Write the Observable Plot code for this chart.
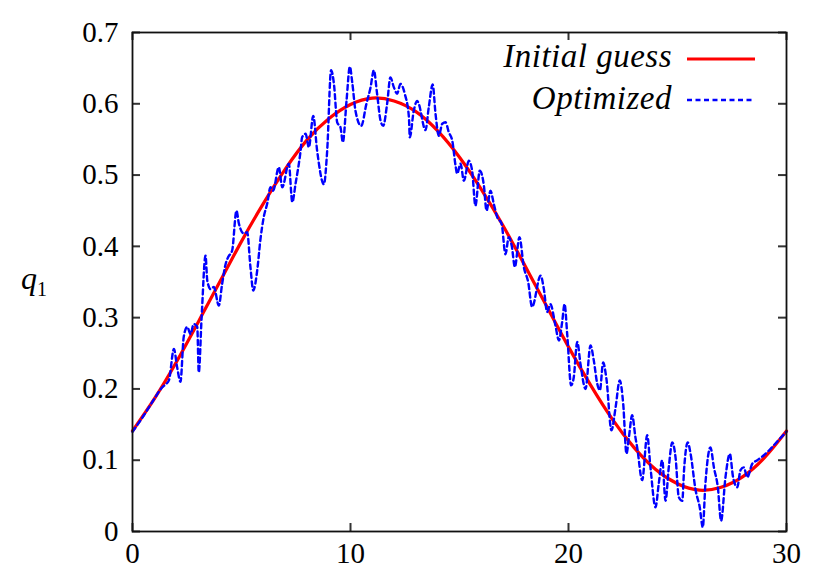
<!DOCTYPE html>
<html>
<head>
<meta charset="utf-8">
<script src="https://cdn.jsdelivr.net/npm/d3@7"></script>
<script src="https://cdn.jsdelivr.net/npm/@observablehq/plot@0.6"></script>
<style>
  html, body { margin: 0; padding: 0; background: #fff; }
  #wrap { position: relative; width: 830px; height: 583px; font-family: "Liberation Serif", serif; }
  .leg { position: absolute; right: 158px; font-style: italic; font-size: 33px; line-height: 1; white-space: nowrap; letter-spacing: 0.5px; }
  .ylab { position: absolute; left: 21px; top: 262px; font-size: 32px; line-height: 1; }
  .sample { position: absolute; left: 687px; }
</style>
</head>
<body>
<div id="wrap"></div>
<script>
// x-axis and y-axis ticks
const xTicks = [0, 10, 20, 30];
const yTicks = [0, 0.1, 0.2, 0.3, 0.4, 0.5, 0.6, 0.7];
const yTickLabels = ["0", "0.1", "0.2", "0.3", "0.4", "0.5", "0.6", "0.7"];

// "Initial guess" (smooth red curve)
const initX = [0,1,2,3,4,5,6,7,8,9,10,11,12,13,14,15,16,17,18,19,20,21,22,23,24,25,26,27,28,29,30];
const initQ = [0.141,0.186,0.237,0.293,0.350,0.407,0.460,0.508,0.549,0.579,0.599,0.608,0.604,0.589,0.562,0.525,0.480,0.429,0.373,0.316,0.259,0.206,0.158,0.118,0.087,0.067,0.058,0.062,0.077,0.104,0.141];

// "Optimized" (dashed blue curve)
const optX = [0.00,0.50,1.00,1.30,1.50,1.67,1.90,2.05,2.20,2.35,2.51,2.66,2.81,2.97,3.04,3.17,3.35,3.43,3.58,3.73,3.96,4.11,4.27,4.39,4.57,4.77,4.88,5.11,5.26,5.41,5.54,5.72,5.87,6.02,6.18,6.33,6.45,6.71,6.87,7.17,7.33,7.48,7.71,7.78,7.94,8.09,8.29,8.47,8.78,8.93,9.11,9.24,9.39,9.54,9.65,9.82,9.97,10.08,10.23,10.49,10.73,10.92,11.07,11.22,11.38,11.50,11.68,11.83,11.99,12.14,12.29,12.49,12.68,12.72,12.90,13.06,13.13,13.44,13.59,13.77,13.90,14.05,14.21,14.36,14.51,14.67,14.82,14.89,15.05,15.20,15.43,15.58,15.73,15.93,16.12,16.24,16.42,16.57,16.73,16.93,17.11,17.26,17.40,17.54,17.75,17.95,18.15,18.33,18.72,18.87,19.02,19.17,19.40,19.56,19.71,19.82,19.94,20.12,20.24,20.40,20.55,20.78,21.01,21.16,21.32,21.44,21.59,21.74,21.97,22.16,22.35,22.51,22.66,22.77,22.92,23.07,23.15,23.38,23.61,23.76,23.99,24.14,24.30,24.45,24.60,24.76,24.91,25.06,25.22,25.30,25.47,25.60,25.83,26.02,26.16,26.28,26.51,26.67,26.85,27.00,27.20,27.40,27.55,27.74,27.89,28.04,28.20,28.43,28.66,28.96,29.27,29.60,30.00];
const optQ = [0.140,0.162,0.186,0.200,0.206,0.212,0.256,0.230,0.210,0.273,0.287,0.277,0.291,0.287,0.223,0.300,0.387,0.352,0.340,0.343,0.317,0.347,0.375,0.385,0.394,0.450,0.432,0.418,0.420,0.371,0.338,0.366,0.410,0.441,0.460,0.483,0.478,0.511,0.483,0.516,0.462,0.488,0.534,0.553,0.558,0.539,0.583,0.534,0.487,0.534,0.647,0.628,0.574,0.567,0.546,0.605,0.652,0.630,0.590,0.569,0.600,0.623,0.647,0.614,0.576,0.569,0.600,0.637,0.623,0.614,0.628,0.614,0.581,0.553,0.590,0.604,0.600,0.563,0.595,0.627,0.586,0.555,0.572,0.574,0.560,0.548,0.513,0.502,0.516,0.492,0.520,0.506,0.457,0.506,0.485,0.450,0.478,0.460,0.441,0.432,0.389,0.413,0.400,0.371,0.413,0.371,0.350,0.315,0.359,0.340,0.308,0.319,0.289,0.268,0.294,0.319,0.277,0.205,0.216,0.266,0.235,0.200,0.261,0.240,0.207,0.198,0.237,0.214,0.142,0.174,0.212,0.179,0.109,0.132,0.163,0.132,0.118,0.072,0.135,0.090,0.034,0.067,0.100,0.043,0.090,0.125,0.104,0.048,0.043,0.086,0.125,0.109,0.058,0.034,0.006,0.067,0.118,0.090,0.062,0.015,0.076,0.109,0.076,0.062,0.086,0.090,0.076,0.095,0.100,0.107,0.116,0.127,0.140];

const initial = initX.map((x, i) => ({x, q: initQ[i]}));
const optimized = optX.map((x, i) => ({x, q: optQ[i]}));

const W = 830, H = 583, mL = 132, mR = 44, mT = 32, mB = 52, tick = 8;
const frameW = W - mL - mR, frameH = H - mT - mB;

const chart = Plot.plot({
  width: W,
  height: H,
  marginLeft: mL,
  marginRight: mR,
  marginTop: mT,
  marginBottom: mB,
  style: {fontFamily: "Liberation Serif, serif", fontSize: "29px", background: "white", color: "black", overflow: "visible"},
  x: {domain: [0, 30]},
  y: {domain: [0, 0.7]},
  marks: [
    Plot.line(initial, {x: "x", y: "q", stroke: "#ff0000", strokeWidth: 3.2, curve: "natural"}),
    Plot.line(optimized, {x: "x", y: "q", stroke: "#0000ff", strokeWidth: 2.4, strokeDasharray: "5,3.5", curve: "monotone-x"}),
    // inward ticks on all four sides
    Plot.ruleX(xTicks, {x: d => d, stroke: "#333", strokeWidth: 2, insetTop: frameH - tick}),
    Plot.ruleX(xTicks, {x: d => d, stroke: "#333", strokeWidth: 2, insetBottom: frameH - tick}),
    Plot.ruleY(yTicks, {y: d => d, stroke: "#333", strokeWidth: 2, insetRight: frameW - tick}),
    Plot.ruleY(yTicks, {y: d => d, stroke: "#333", strokeWidth: 2, insetLeft: frameW - tick}),
    Plot.frame({stroke: "#111", strokeWidth: 1.8}),
    Plot.axisX(xTicks, {anchor: "bottom", tickSize: 0, tickPadding: 11, label: null, tickFormat: d => String(d)}),
    Plot.axisY(yTicks, {anchor: "left", tickSize: 0, tickPadding: 14, label: null, tickFormat: d => yTickLabels[yTicks.indexOf(d)]})
  ]
});

const wrap = document.getElementById("wrap");
wrap.appendChild(chart);

function addLegend(text, top) {
  const t = document.createElement("div");
  t.className = "leg";
  t.style.top = top + "px";
  t.textContent = text;
  wrap.appendChild(t);
}
addLegend("Initial guess", 40);
addLegend("Optimized", 82);

const ns = "http://www.w3.org/2000/svg";
function sample(y, color, dash, w) {
  const s = document.createElementNS(ns, "svg");
  s.setAttribute("width", "70");
  s.setAttribute("height", "10");
  s.setAttribute("class", "sample");
  s.style.top = (y - 5) + "px";
  const l = document.createElementNS(ns, "line");
  l.setAttribute("x1", "0"); l.setAttribute("x2", "68");
  l.setAttribute("y1", "5"); l.setAttribute("y2", "5");
  l.setAttribute("stroke", color);
  l.setAttribute("stroke-width", w);
  if (dash) l.setAttribute("stroke-dasharray", dash);
  s.appendChild(l);
  wrap.appendChild(s);
}
sample(59, "#ff0000", null, 3.2);
sample(100, "#0000ff", "5,3.5", 2.4);

const yl = document.createElement("div");
yl.className = "ylab";
yl.innerHTML = '<i>q</i><sub style="font-size:20px;font-style:normal">1</sub>';
wrap.appendChild(yl);
</script>
</body>
</html>
